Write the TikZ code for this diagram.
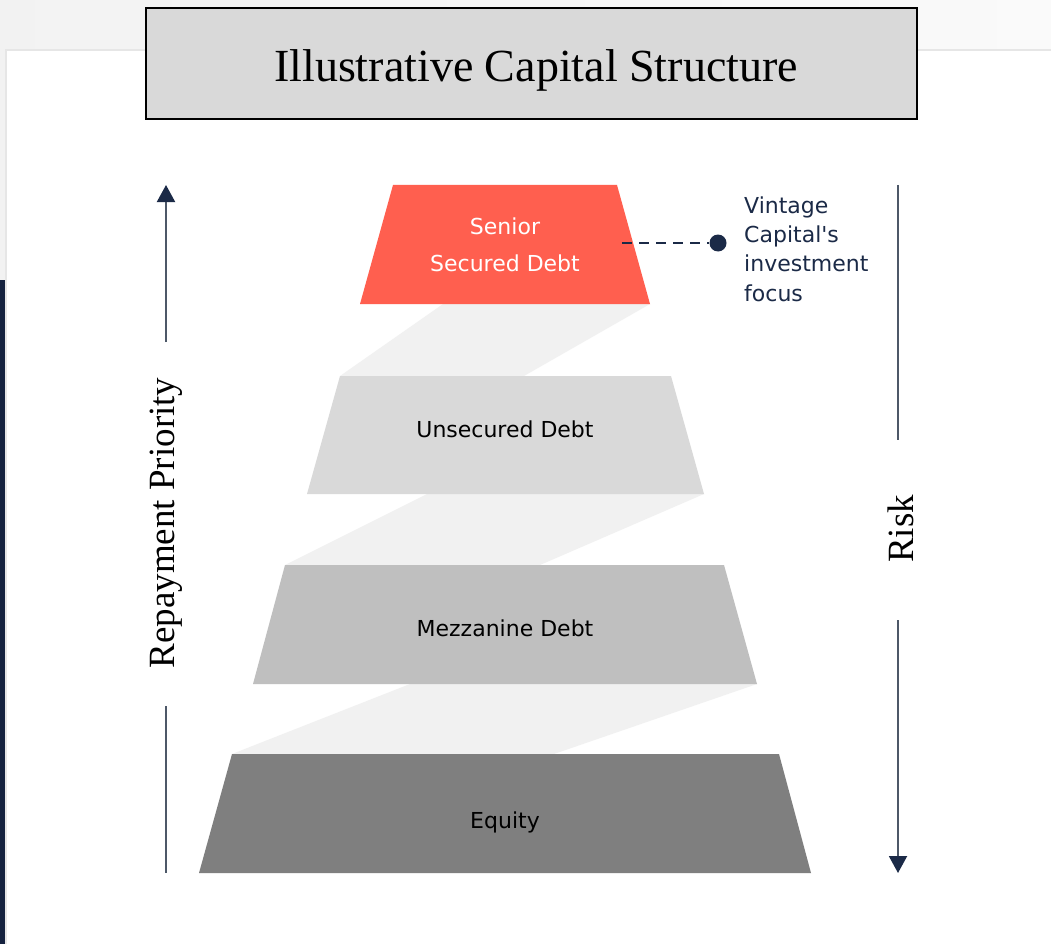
\documentclass[tikz,border=0pt]{standalone}
\usepackage{fontspec}
\setmainfont{Liberation Serif}
\newfontfamily\tierfont{DejaVu Sans}
\usepackage{tikz}
\usetikzlibrary{arrows.meta}
\definecolor{navy}{HTML}{1B2A47}
\definecolor{navybar}{HTML}{15223F}
\definecolor{axisgray}{HTML}{4D5868}
\definecolor{titlegray}{HTML}{D9D9D9}
\definecolor{senior}{HTML}{FF5F4F}
\definecolor{unsecured}{HTML}{D9D9D9}
\definecolor{mezz}{HTML}{BFBFBF}
\definecolor{equity}{HTML}{7F7F7F}
\definecolor{band}{HTML}{F1F1F1}
\definecolor{edge}{HTML}{E6E6E6}
\tikzstyle{tier label}=[inner sep=0pt,font=\tierfont\fontsize{22}{37}\selectfont,align=center]
\tikzstyle{side label}=[rotate=90,inner sep=0pt,font=\fontsize{37}{40}\selectfont]
\tikzstyle{axis line}=[axisgray,line width=2pt]
\tikzstyle{axis arrow}=[axis line,-{Triangle[width=18pt,length=17pt,color=navy]}]

\begin{document}
\begin{tikzpicture}[x=1pt,y=-1pt]
\useasboundingbox (0,0) rectangle (1051,944);
% page behind the card
\shade[left color=black!5,right color=black!2] (0,0) rectangle (1051,50);
\fill[black!5] (0,50) rectangle (6,280);
\fill[navybar] (0,280) rectangle (5,944);
\fill[white] (6,50) rectangle (1051,944);
\draw[edge,line width=2pt] (6,944) -- (6,50) -- (1051,50);
% title
\node[draw,fill=titlegray,line width=1.2pt,minimum width=771pt,minimum height=111pt] (box) at (531.5,63.5) {};
\node[font=\fontsize{46}{50}\selectfont] (title) at (536,70) {Illustrative Capital Structure};
% light bands between the tiers
\fill[band] (443,304) -- (650,304) -- (524,376) -- (340,376) -- cycle;
\fill[band] (427,494) -- (704,494) -- (540,565) -- (285,565) -- cycle;
\fill[band] (410,684) -- (757,684) -- (554,754) -- (232,754) -- cycle;
% tiers
\fill[senior] (393,185) -- (617,185) -- (650,304) -- (360,304) -- cycle;
\fill[unsecured] (340,376) -- (671,376) -- (704,494) -- (307,494) -- cycle;
\fill[mezz] (285,565) -- (724,565) -- (757,684) -- (253,684) -- cycle;
\fill[equity] (232,754) -- (779,754) -- (811,873) -- (199,873) -- cycle;
\node[tier label,white] (a) at (505,245) {Senior\\Secured Debt};
\node[tier label] (b) at (505,429) {Unsecured Debt};
\node[tier label] (c) at (505,628) {Mezzanine Debt};
\node[tier label] (d) at (505,822) {Equity};
% focus marker
\coordinate (s) at (622,243);
\node[circle,fill=navy,inner sep=0pt,minimum size=17pt] (dot) at (718,243) {};
\draw[navy,line width=2.8pt,dash pattern=on 10pt off 7pt] (s) -- (dot);
\node[anchor=west,inner sep=0pt,align=left,text=navy,font=\tierfont\fontsize{22}{29.4}\selectfont] (focus) at (744,249) {Vintage\\Capital's\\investment\\focus};
% repayment priority axis
\coordinate (l1) at (166,342);
\coordinate (l2) at (166,185);
\coordinate (l3) at (166,706);
\coordinate (l4) at (166,873);
\draw[axis arrow] (l1) -- (l2);
\draw[axis line] (l3) -- (l4);
\node[side label] (prio) at (166,523) {Repayment Priority};
% risk axis
\coordinate (r1) at (898,185);
\coordinate (r2) at (898,440);
\coordinate (r3) at (898,620);
\coordinate (r4) at (898,873);
\draw[axis line] (r1) -- (r2);
\draw[axis arrow] (r3) -- (r4);
\node[side label] (risk) at (901,529) {Risk};
\end{tikzpicture}
\end{document}
